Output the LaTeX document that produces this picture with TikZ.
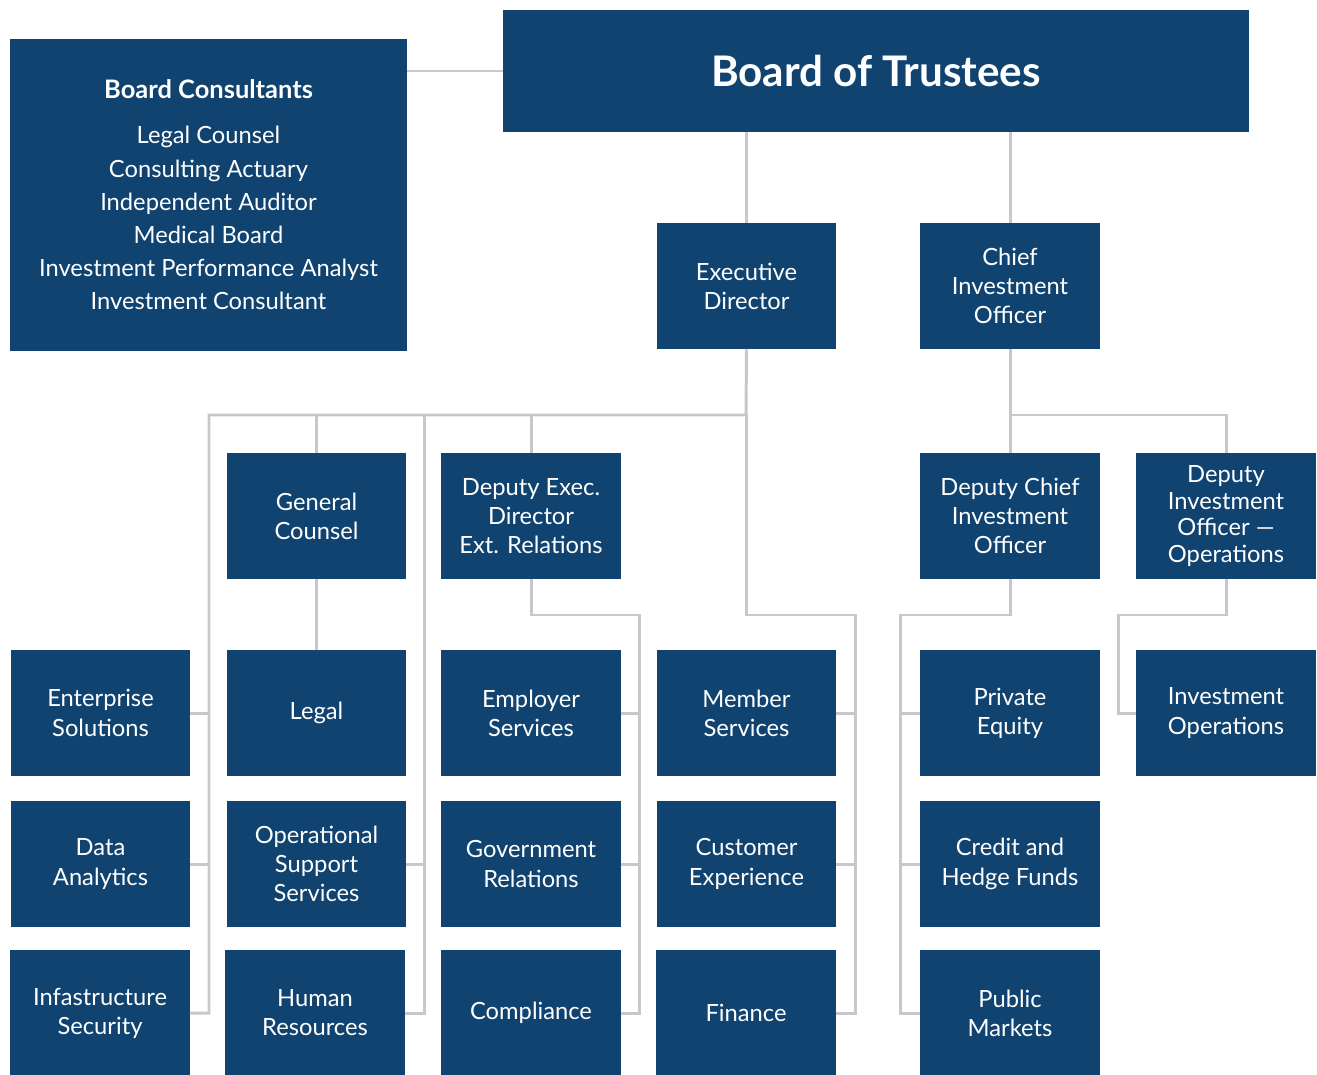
\documentclass[tikz,border=0pt]{standalone}
\usepackage{fontspec}
\setmainfont{Lato}
\usetikzlibrary{calc}

\definecolor{boxblue}{RGB}{16,67,112}
\definecolor{linegray}{RGB}{200,200,204}

\begin{document}
\begin{tikzpicture}[x=0.02cm, y=-0.02cm,
        unit/.style={fill=boxblue, text=white, inner sep=0pt, outer sep=0pt, align=center,
            minimum width=3.6cm, minimum height=2.52cm,
            font=\fontsize{13.5}{16.6}\selectfont},
        link/.style={draw=linegray, line width=1.7pt}]

            \useasboundingbox (0,0) rectangle (1317,1074);

            \node[unit, minimum width=7.94cm, minimum height=6.24cm] (consult) at (208.5,195)
                {{\bfseries\fontsize{14.5}{18}\selectfont Board Consultants}\\[9pt]
                 Legal Counsel\\[2.3pt] Consulting Actuary\\[2.3pt] Independent Auditor\\[2.3pt]
                 Medical Board\\[2.3pt] Investment Performance Analyst\\[2.3pt] Investment Consultant};
            \node[unit, minimum width=14.92cm, minimum height=2.46cm,
                font=\bfseries\fontsize{24}{28}\selectfont] (trustees) at (876,71) {Board of Trustees};

            \node[unit] (exec) at (746.5,286) {Executive\\Director};
            \node[unit] (cio) at (1010,286) {Chief\\Investment\\Officer};

            \node[unit] (gc) at (316.5,516) {General\\Counsel};
            \node[unit] (dep) at (531,516) {Deputy Exec.\\Director\\Ext. Relations};
            \node[unit] (dcio) at (1010,516) {Deputy Chief\\Investment\\Officer};
            \node[unit, font=\fontsize{13.5}{15.2}\selectfont] (dio) at (1226,516)
                {Deputy\\Investment\\Officer ---\\Operations};

            \node[unit] (enterprise) at (100.5,713) {Enterprise\\Solutions};
            \node[unit] (legal) at (316.5,713) {Legal};
            \node[unit] (employer) at (531,713) {Employer\\Services};
            \node[unit] (member) at (746.5,713) {Member\\Services};
            \node[unit] (private) at (1010,713) {Private\\Equity};
            \node[unit] (invops) at (1226,713) {Investment\\Operations};

            \node[unit] (data) at (100.5,864) {Data\\Analytics};
            \node[unit] (ops) at (316.5,864) {Operational\\Support\\Services};
            \node[unit] (gov) at (531,864) {Government\\Relations};
            \node[unit] (cx) at (746.5,864) {Customer\\Experience};
            \node[unit] (credit) at (1010,864) {Credit and\\Hedge Funds};

            \node[unit] (infra) at (100,1013) {Infastructure\\Security};
            \node[unit] (hr) at (315,1013) {Human\\Resources};
            \node[unit] (compliance) at (531,1013) {Compliance};
            \node[unit] (finance) at (746,1013) {Finance};
            \node[unit] (public) at (1010,1013) {Public\\Markets};

            % bus points
            \coordinate (ebus) at (746,415);
            \coordinate (lbus) at (209,415);
            \coordinate (sbus) at (424,415);
            \coordinate (dbus) at (639,615);
            \coordinate (mbus) at (855,615);
            \coordinate (cbus) at (1010,415);
            \coordinate (pbus) at (900,615);
            \coordinate (iobus) at (1118,615);

            \draw[link] (trustees.west -| consult.east) -- (trustees.west);
            \draw[link] (trustees.south -| exec) -- (exec.north);
            \draw[link] (trustees.south -| cio) -- (cio.north);

            \draw[link] (exec.south) -- (ebus) -- (lbus) |- (infra.east);
            \draw[link] (lbus |- enterprise.east) -- (enterprise.east);
            \draw[link] (lbus |- data.east) -- (data.east);
            \draw[link] (ebus -| gc) -- (gc.north);
            \draw[link] (gc.south) -- (legal.north);
            \draw[link] (sbus) |- (hr.east);
            \draw[link] (sbus |- ops.east) -- (ops.east);
            \draw[link] (ebus -| dep) -- (dep.north);

            \draw[link] (dep.south) |- (dbus) |- (compliance.east);
            \draw[link] (dbus |- employer.east) -- (employer.east);
            \draw[link] (dbus |- gov.east) -- (gov.east);

            \draw[link] (ebus) |- (mbus) |- (finance.east);
            \draw[link] (mbus |- member.east) -- (member.east);
            \draw[link] (mbus |- cx.east) -- (cx.east);

            \draw[link] (cio.south) -- (dcio.north);
            \draw[link] (cbus) -| (dio.north);
            \draw[link] (dcio.south) |- (pbus) |- (public.west);
            \draw[link] (pbus |- private.west) -- (private.west);
            \draw[link] (pbus |- credit.west) -- (credit.west);
            \draw[link] (dio.south) |- (iobus) |- (invops.west);

        \end{tikzpicture}
\end{document}
